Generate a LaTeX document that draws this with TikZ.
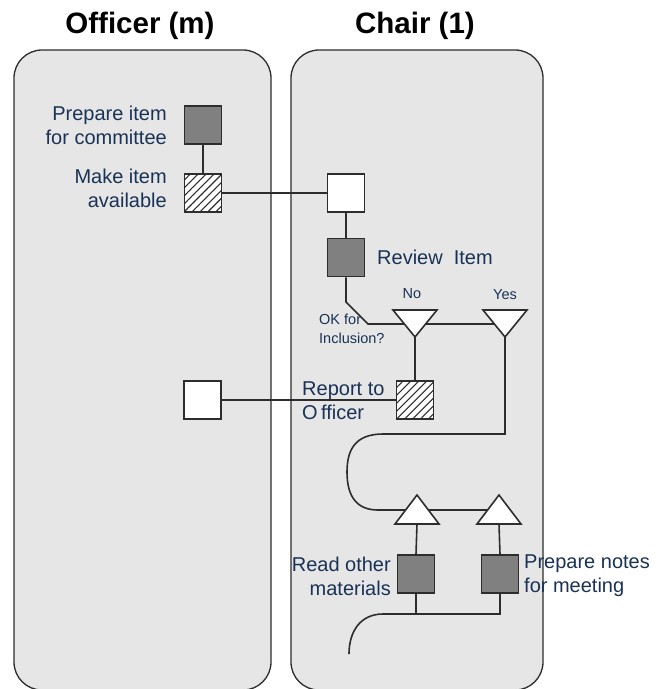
\documentclass[tikz,border=0pt]{standalone}
\usepackage{fontspec}
\setmainfont{Liberation Sans}
\usetikzlibrary{patterns.meta}
\definecolor{lanefill}{RGB}{230,230,230}
\definecolor{linec}{RGB}{45,45,45}
\definecolor{darkfill}{RGB}{128,128,128}
\definecolor{txt}{RGB}{25,50,85}
\tikzset{
  lane/.style={draw=linec, line width=1.3pt, fill=lanefill, rounded corners=28pt, inner sep=0pt},
  title/.style={font=\bfseries\fontsize{29.5}{32}\selectfont, text=black, inner sep=0pt, anchor=base},
  lbl/.style={font=\fontsize{20}{24}\selectfont, text=txt, inner sep=0pt},
  small/.style={font=\fontsize{14.5}{19}\selectfont, text=txt, inner sep=0pt},
  act/.style={draw=linec, line width=1.6pt, minimum width=37pt, minimum height=38pt, inner sep=0pt},
  darkbox/.style={act, fill=darkfill},
  whitebox/.style={act, fill=white},
  hatchbox/.style={act, preaction={fill=white}, pattern={Lines[angle=45,distance=5.6pt,line width=1.1pt]}, pattern color=linec},
  conn/.style={draw=linec, line width=1.6pt},
  tri/.style={draw=linec, line width=1.6pt, fill=white, line join=miter}
}
\begin{document}
\begin{tikzpicture}[x=1pt,y=-1pt]
\useasboundingbox (0,0) rectangle (664,689);
% titles
\node[title] (tOff) at (140,33) {Officer (m)};
\node[title] (tCh) at (415,33) {Chair (1)};
% lanes
\node[lane, minimum width=257pt, minimum height=640pt] (laneO) at (142.5,370) {};
\node[lane, minimum width=252pt, minimum height=640pt] (laneC) at (417,370) {};
% activity boxes
\node[darkbox] (prep) at (203,125) {};
\node[hatchbox] (make) at (203,193) {};
\node[whitebox] (recv) at (346,193) {};
\node[darkbox] (review) at (346,257.5) {};
\node[hatchbox] (report) at (415,400) {};
\node[whitebox] (back) at (202.5,400) {};
\node[darkbox] (read) at (416,574) {};
\node[darkbox] (notes) at (500,574) {};
% helper coordinates
\coordinate (b1) at (346,302);
\coordinate (b2) at (368,324);
\coordinate (noA) at (415,337);
\coordinate (yesC) at (505,324);
\coordinate (yesA) at (505,337);
\coordinate (y1) at (505,434);
\coordinate (y2) at (383,434);
\coordinate (s1) at (347,472);
\coordinate (s2) at (378,510);
\coordinate (upLb) at (417,524);
\coordinate (upRc) at (499,510);
\coordinate (upRb) at (499,524);
\coordinate (j1) at (416,614);
\coordinate (j0) at (383,614);
\coordinate (jend) at (349,654);
% connectors
\draw[conn] (prep) -- (make);
\draw[conn] (make) -- (recv);
\draw[conn] (recv) -- (review);
\draw[conn] (review.south) -- (b1) -- (b2) -- (yesC);
\draw[conn] (noA) -- (report.north);
\draw[conn] (report) -- (back);
\draw[conn] (yesA) -- (y1) -- (y2) .. controls (355,434) and (347,450) .. (s1) .. controls (347,498) and (358,510) .. (s2) -- (upRc);
\draw[conn] (upLb) -- (read.north);
\draw[conn] (upRb) -- (notes.north);
\draw[conn] (read.south) -- (j1);
\draw[conn] (notes.south) |- (j0) .. controls (360,614) and (349,632) .. (jend);
% decision / merge triangles
\draw[tri] (393,310) -- (437,310) -- (noA) -- cycle;
\draw[tri] (483,310) -- (527,310) -- (yesA) -- cycle;
\draw[tri] (395,524) -- (439,524) -- (417,495) -- cycle;
\draw[tri] (477,524) -- (521,524) -- (499,495) -- cycle;
% labels
\node[lbl, anchor=east, align=right] (lPrep) at (167,125) {Prepare item\\for committee};
\node[lbl, anchor=east, align=right] (lMake) at (167,188) {Make item\\available};
\node[lbl, anchor=west] (lRev) at (377,257) {Review\ \ Item};
\node[small, anchor=west, align=left] (lOK) at (319,329) {OK for\\Inclusion?};
\node[small, anchor=base] (lNo) at (412,298) {No};
\node[small, anchor=base] (lYes) at (505,299) {Yes};
\node[lbl, anchor=west, align=left] (lRep) at (302,401) {Report to\\O\,fficer};
\node[lbl, anchor=east, align=right] (lRead) at (391,576) {Read other\\materials};
\node[lbl, anchor=west, align=left] (lNotes) at (524,576) {Prepare notes\\for meeting};
\end{tikzpicture}
\end{document}
